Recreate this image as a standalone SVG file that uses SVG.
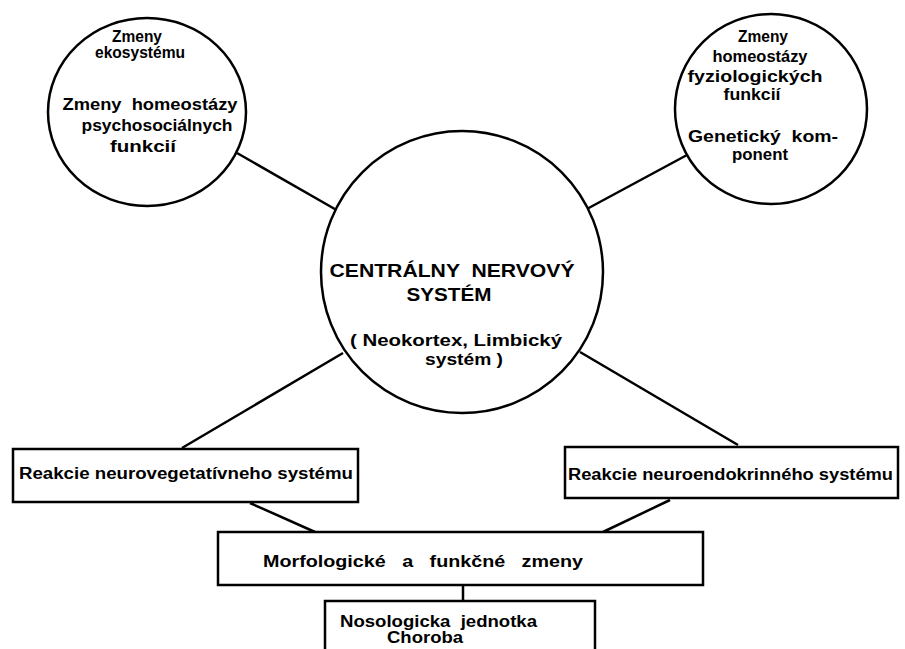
<svg xmlns="http://www.w3.org/2000/svg" width="905" height="649" viewBox="0 0 905 649">
<style>
.n{fill:#fff;stroke:#000;stroke-width:2.5}
.c line{stroke:#000;stroke-width:2.5}
text{font-family:"Liberation Sans",Arial,sans-serif;font-weight:bold;font-size:16px;fill:#000;text-anchor:middle}
.big{font-size:19px}
.l{text-anchor:start}
.p{white-space:pre}
</style>
<rect width="905" height="649" fill="#fff"/>
<g class="c" id="connectors">
<line x1="237" y1="153" x2="340" y2="212"/>
<line x1="687" y1="155" x2="585" y2="210"/>
<line x1="343" y1="353" x2="182" y2="448"/>
<line x1="580" y1="352" x2="738" y2="445"/>
<line x1="250" y1="503" x2="315" y2="532"/>
<line x1="670" y1="500" x2="603" y2="532"/>
<line x1="463" y1="585" x2="463" y2="601"/>
</g>
<g id="eco">
<ellipse class="n" cx="147" cy="112" rx="99" ry="94"/>
<text x="137" y="42" textLength="50" lengthAdjust="spacingAndGlyphs">Zmeny</text>
<text x="140" y="58" textLength="90" lengthAdjust="spacingAndGlyphs">ekosystému</text>
<text class="p" x="150" y="110" textLength="175" lengthAdjust="spacingAndGlyphs">Zmeny  homeostázy</text>
<text x="157" y="131" textLength="151" lengthAdjust="spacingAndGlyphs">psychosociálnych</text>
<text x="143" y="152" textLength="66" lengthAdjust="spacingAndGlyphs">funkcií</text>
</g>
<g id="phys">
<ellipse class="n" cx="771" cy="109" rx="96" ry="95"/>
<text x="763" y="42" textLength="50" lengthAdjust="spacingAndGlyphs">Zmeny</text>
<text x="760" y="62" textLength="95" lengthAdjust="spacingAndGlyphs">homeostázy</text>
<text x="755" y="82" textLength="135" lengthAdjust="spacingAndGlyphs">fyziologických</text>
<text x="752" y="100" textLength="57" lengthAdjust="spacingAndGlyphs">funkcií</text>
<text class="p" x="763" y="142" textLength="150" lengthAdjust="spacingAndGlyphs">Genetický  kom-</text>
<text x="760" y="160" textLength="56" lengthAdjust="spacingAndGlyphs">ponent</text>
</g>
<g id="cns">
<circle class="n" cx="462" cy="272" r="141"/>
<text class="big p" x="452" y="277" textLength="245" lengthAdjust="spacingAndGlyphs">CENTRÁLNY  NERVOVÝ</text>
<text class="big" x="449" y="301" textLength="85" lengthAdjust="spacingAndGlyphs">SYSTÉM</text>
<text x="456" y="346" textLength="212" lengthAdjust="spacingAndGlyphs">( Neokortex, Limbický</text>
<text x="464" y="365" textLength="78" lengthAdjust="spacingAndGlyphs">systém )</text>
</g>
<g id="veg">
<rect class="n" x="13" y="449" width="345" height="53"/>
<text class="l" x="19" y="479" textLength="334" lengthAdjust="spacingAndGlyphs">Reakcie neurovegetatívneho systému</text>
</g>
<g id="endo">
<rect class="n" x="565" y="447" width="333" height="51"/>
<text class="l" x="568" y="480" textLength="325" lengthAdjust="spacingAndGlyphs">Reakcie neuroendokrinného systému</text>
</g>
<g id="morph">
<rect class="n" x="218" y="532" width="485" height="53"/>
<text class="l p" x="263" y="567" textLength="320" lengthAdjust="spacingAndGlyphs">Morfologické   a   funkčné   zmeny</text>
</g>
<g id="noso">
<rect class="n" x="325" y="601" width="270" height="60"/>
<text class="l p" x="340" y="627" textLength="197" lengthAdjust="spacingAndGlyphs">Nosologicka  jednotka</text>
<text class="l" x="387" y="643" textLength="76" lengthAdjust="spacingAndGlyphs">Choroba</text>
</g>
</svg>
